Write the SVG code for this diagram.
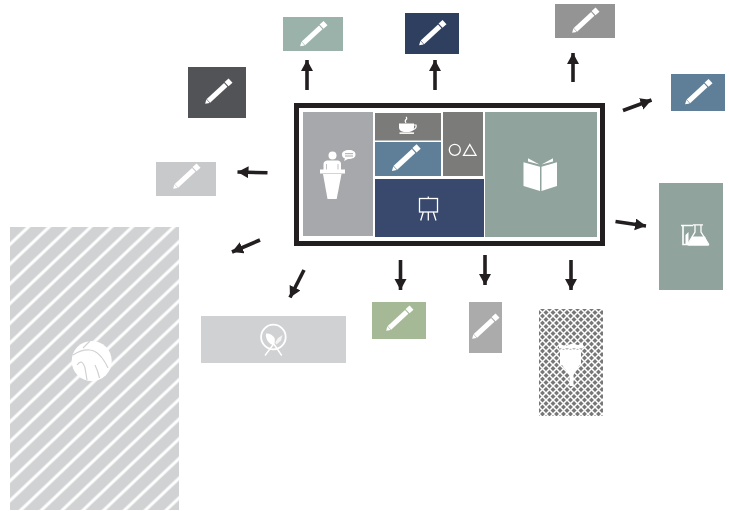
<svg xmlns="http://www.w3.org/2000/svg" width="730" height="511" viewBox="0 0 730 511">
<style>
.w{fill:#fff}
.o{fill:none;stroke:#fff}
.a{fill:none;stroke:#231f20;stroke-width:3.6}
.h{fill:#231f20}
</style>
<defs>
<g id="pen">
<g transform="rotate(-42.500)">
<path class="w" d="M-17.500 0L-13.500-2.400V2.400Z"/>
<path class="w" d="M-13-2.500H10.500V2.500H-13Z"/>
<path class="w" d="M11.600-2.900H17V2.900H11.600Z"/>
</g>
</g>
<marker id="ah" markerUnits="userSpaceOnUse" markerWidth="13" markerHeight="13" refX="11" refY="6" orient="auto"><path class="h" d="M0 0L11 6L0 12Z"/></marker>
<pattern id="st" patternUnits="userSpaceOnUse" width="20" height="14.300" patternTransform="translate(28.300 227) rotate(-43.500)">
<rect width="20" height="14.300" fill="#d1d2d4"/>
<rect width="20" height="1.500" fill="#fff"/>
<rect y="12.800" width="20" height="1.500" fill="#fff"/>
</pattern>
<pattern id="cx" patternUnits="userSpaceOnUse" width="7" height="7" patternTransform="translate(539 309)">
<rect width="7" height="7" fill="#777"/>
<path d="M0 0L7 7M7 0L0 7" stroke="#fff" stroke-width="1.500"/>
</pattern>
</defs>

<g id="connectors">
<path class="a" marker-end="url(#ah)" d="M307 90V60"/>
<path class="a" marker-end="url(#ah)" d="M435 90V60"/>
<path class="a" marker-end="url(#ah)" d="M573 82V53"/>
<path class="a" marker-end="url(#ah)" d="M623 110.500L651.500 100"/>
<path class="a" marker-end="url(#ah)" d="M615.500 221.500L646 226"/>
<path class="a" marker-end="url(#ah)" d="M267.500 172.800L237.500 172"/>
<path class="a" marker-end="url(#ah)" d="M260 240L232 252"/>
<path class="a" marker-end="url(#ah)" d="M304 270L290 297.500"/>
<path class="a" marker-end="url(#ah)" d="M400.500 260V290"/>
<path class="a" marker-end="url(#ah)" d="M485 255V285"/>
<path class="a" marker-end="url(#ah)" d="M571 260V290"/>
</g>

<g id="center">
<rect x="296.500" y="105.500" width="306" height="138" fill="#fff" stroke="#231f20" stroke-width="5"/>
<g id="presenter">
<rect x="303" y="112" width="70" height="124" fill="#a7a8ac"/>
<circle class="w" cx="332.500" cy="155.500" r="4"/>
<path class="w" d="M323.500 170V164Q323.500 161 327 160.500H338Q341 161 341 164V170Z"/>
<path d="M326.500 164V170M338 164V170" stroke="#a7a8ac" stroke-width=".7"/>
<rect class="w" x="320" y="169.500" width="25" height="4"/>
<path class="w" d="M323 174H341.500L336.700 199H327.500Z"/>
<path class="w" d="M342 154.500C342 151.500 345 150 349 150C353 150 355.500 151.500 355.500 154.500C355.500 157.500 353 159 348 159L344 161L345 158.500C343 158 342 156.500 342 154.500Z"/>
<path d="M345 153.700H353M345 156H353" stroke="#a7a8ac" stroke-width="1"/>
</g>
<g id="coffee">
<rect x="375" y="113" width="66" height="27.500" fill="#7b7b79"/>
<path class="w" d="M399 123.500H414V128Q413.500 131.500 409 132H404Q399.500 131.500 399 128Z"/>
<path class="o" d="M414 125H416Q417 128.500 412.500 130" stroke-width="1.200"/>
<rect class="w" x="399.500" y="132.400" width="14.500" height="1.500"/>
<path class="o" d="M406 123Q404.500 121 406 119.500Q407.500 118.500 406 117" stroke-width="1.200"/>
</g>
<g id="pencil-cell">
<rect x="375" y="142" width="66" height="34" fill="#5f7f98"/>
<use href="#pen" transform="translate(405.500 158.500) scale(1.050)"/>
</g>
<g id="shapes">
<rect x="443" y="112" width="40" height="64" fill="#7b7b79"/>
<circle class="o" cx="454.800" cy="149.800" r="5.500" stroke-width="1.300"/>
<path class="o" d="M463.500 155.300L469.800 144.500L476 155.300Z" stroke-width="1.300"/>
</g>
<g id="easel">
<rect x="375" y="179" width="109" height="58" fill="#38496d"/>
<rect class="o" x="419.500" y="198.500" width="18" height="13.500" stroke-width="1.300"/>
<path class="o" d="M428.300 196.500V198.500M423.300 212L420.700 220.500M428.300 212V220.500M433.300 212L436 220.500" stroke-width="1.300"/>
</g>
<g id="book">
<rect x="485" y="112" width="112" height="125" fill="#91a39d"/>
<path class="w" d="M523.500 162.300L540 166.700V191L523.500 186Z"/>
<path class="w" d="M541.500 166.700L557 162.300V186L541.500 191Z"/>
<path class="w" d="M528 158.300L539.500 164.500L528 161.500Z"/>
<path class="w" d="M553 158.300L541.500 164.500L553 161.500Z"/>
</g>
</g>

<g id="n-teal"><rect x="283" y="17" width="60" height="34" fill="#9bb2aa"/><use href="#pen" transform="translate(313 34.500)"/></g>
<g id="n-navy"><rect x="405" y="13" width="54" height="41" fill="#2f3f60"/><use href="#pen" transform="translate(432 33.500)"/></g>
<g id="n-grey"><rect x="555" y="4" width="60" height="34" fill="#949494"/><use href="#pen" transform="translate(585 21)"/></g>
<g id="n-blue"><rect x="671" y="74" width="54" height="37" fill="#5f7f98"/><use href="#pen" transform="translate(698 92.500)"/></g>
<g id="n-dark"><rect x="188" y="67" width="58" height="51" fill="#525357"/><use href="#pen" transform="translate(218 92)"/></g>
<g id="n-light"><rect x="156" y="162" width="60" height="34" fill="#c8c9cb"/><use href="#pen" transform="translate(186 177)"/></g>
<g id="n-green"><rect x="372" y="302" width="54" height="37" fill="#a5b996"/><use href="#pen" transform="translate(399 319)"/></g>
<g id="n-narrow"><rect x="469" y="302" width="33" height="51" fill="#ababab"/><use href="#pen" transform="translate(485 327)"/></g>

<g id="n-flask">
<rect x="659" y="183" width="64" height="107" fill="#91a39d"/>
<path class="o" d="M681 225.500H693M683 225.500V244.500H689" stroke-width="1.600"/>
<path class="w" d="M685.500 235L688.500 232V244H685.500Z"/>
<path class="o" d="M693 224.800H703M695 225V232L687.800 244Q687.500 245.200 689 245.200H707.500Q709 245.200 708.500 244L701 232V225" stroke-width="1.300"/>
<path class="w" d="M692 236.500H705L708.500 245H688Z"/>
</g>

<g id="n-hatch">
<rect x="539" y="309" width="64" height="107" fill="url(#cx)"/>
<path class="w" d="M559 344L566 346L572 343.500L578 345L583 343V348.500H559Z"/>
<path class="w" d="M560 349.500H581V365H579.500L573.500 375V386H569.500V375L562 365H560Z"/>
</g>

<g id="n-fork">
<rect x="201" y="316" width="145" height="47" fill="#d0d1d3"/>
<circle class="o" cx="273.400" cy="337" r="12.300" stroke-width="1.800"/>
<path class="w" d="M266 333.500C269 333 273 335 274.500 338C275.500 341 274.500 344 273 345C269.500 344.500 265 339 266 333.500Z"/>
<path class="w" d="M282.500 335L281 340.500L276.500 344.500L275.200 342.500L278 338Z" opacity=".75"/>
<path class="o" d="M273.500 343.500L281.700 355.500M274 343.500L265 355.500" stroke-width="1.400"/>
</g>

<g id="n-ball">
<rect x="10" y="227" width="169" height="283" fill="url(#st)"/>
<circle class="w" cx="91.700" cy="361" r="20"/>
<path class="o" d="M73 355Q82 349 90 350Q100 351 108 368M77 365Q82 358 85 368Q86 374 87 380M95 365Q98 371 99.500 378M90 341L83 348" style="stroke:#d1d2d4" stroke-width="1.200"/>
</g>
</svg>
